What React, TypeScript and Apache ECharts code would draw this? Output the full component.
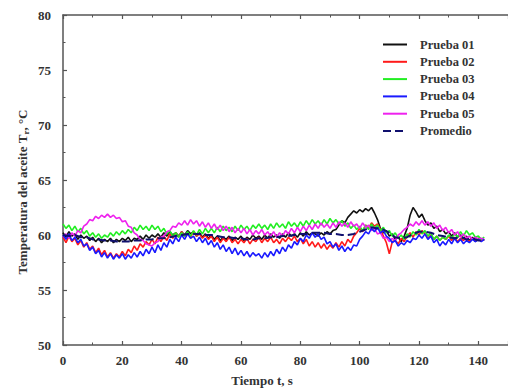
import React, { useEffect, useRef } from "react";
import * as echarts from "echarts";

const time: number[] = Array.from({ length: 143 }, (_, i) => i);
const timeAvg: number[] = Array.from({ length: 72 }, (_, i) => i * 2);

const prueba01 = [
  60.2, 59.8, 60.3, 59.9, 60.1, 59.6, 60.0, 59.7, 59.9, 59.5,
  59.8, 59.4, 59.7, 59.3, 59.6, 59.4, 59.7, 59.3, 59.6, 59.4,
  59.7, 59.5, 59.8, 59.4, 59.7, 59.6, 59.9, 59.6, 60.0, 59.7,
  60.0, 59.8, 60.1, 59.8, 60.2, 59.9, 60.3, 60.0, 60.2, 59.9,
  60.3, 60.0, 60.4, 60.1, 60.3, 59.9, 60.2, 59.8, 60.1, 59.7,
  60.0, 59.6, 59.9, 59.5, 59.8, 59.6, 59.9, 59.5, 59.8, 59.6,
  59.9, 59.5, 59.8, 59.6, 60.0, 59.7, 59.9, 59.6, 60.0, 59.7,
  60.1, 59.8, 60.0, 59.7, 60.1, 59.8, 60.2, 59.9, 60.1, 59.8,
  60.2, 59.9, 60.3, 60.0, 60.2, 60.1, 59.9, 60.2, 60.0, 60.3,
  60.1, 60.4, 60.5, 60.9, 61.3, 61.1, 61.6, 61.9, 62.2, 62.0,
  62.3, 62.1, 62.4, 62.2, 62.5, 62.0, 61.4, 60.6, 60.2, 60.4,
  59.9, 60.1, 59.6, 59.8, 59.4, 59.9, 60.6, 61.8, 62.5, 62.1,
  61.6, 61.9, 61.3, 60.9, 61.1, 60.6, 60.8, 60.3, 60.5, 60.1,
  60.3, 59.9, 60.2, 59.8, 60.0, 59.7, 59.9, 59.5, 59.8, 59.4,
  59.7, 59.5, 59.6,
];
const prueba02 = [
  59.8, 59.3, 59.9, 59.4, 59.7, 59.1, 59.5, 58.9, 59.3, 58.7,
  59.0, 58.4, 58.8, 58.2, 58.6, 58.0, 58.4, 57.9, 58.3, 58.0,
  58.5, 58.1, 58.7, 58.4, 59.0, 58.6, 59.2, 58.9, 59.4, 59.1,
  59.6, 59.2, 59.8, 59.4, 59.9, 59.5, 60.1, 59.7, 60.2, 59.8,
  60.3, 59.9, 60.2, 59.8, 60.3, 59.9, 60.1, 59.7, 60.0, 59.6,
  59.9, 59.4, 59.8, 59.3, 59.7, 59.4, 59.8, 59.3, 59.6, 59.2,
  59.6, 59.3, 59.7, 59.2, 59.6, 59.4, 59.8, 59.3, 59.7, 59.4,
  59.8, 59.3, 59.6, 59.2, 59.7, 59.4, 59.8, 59.5, 59.9, 59.4,
  59.7, 59.2, 59.6, 59.0, 59.4, 58.9, 59.3, 58.8, 59.2, 58.7,
  59.1, 58.8, 59.3, 58.9, 59.4, 59.0, 59.6, 59.3, 59.9, 60.2,
  60.6, 60.3, 60.9, 60.6, 61.1, 60.8, 61.0, 60.5, 59.9, 59.3,
  58.3, 59.4, 59.5, 59.2, 59.7, 59.4, 59.9, 60.2, 59.8, 60.3,
  60.0, 60.4, 60.1, 59.7, 60.0, 59.6, 59.9, 59.5, 59.8, 59.6,
  59.9, 59.5, 59.8, 59.4, 59.7, 59.5, 59.8, 59.4, 59.7, 59.5,
  59.7, 59.5, 59.6,
];
const prueba03 = [
  61.0, 60.6, 60.9, 60.4, 60.8, 60.3, 60.6, 60.1, 60.4, 59.9,
  60.2, 59.8, 60.1, 59.7, 60.0, 59.8, 60.2, 59.9, 60.3, 60.0,
  60.4, 60.1, 60.5, 60.2, 60.7, 60.4, 60.9, 60.5, 60.8, 60.4,
  60.9, 60.5, 60.8, 60.3, 60.6, 60.1, 60.4, 59.9, 60.2, 59.8,
  60.2, 59.9, 60.3, 59.9, 60.4, 60.0, 60.5, 60.1, 60.6, 60.2,
  60.6, 60.2, 60.7, 60.3, 60.8, 60.4, 60.7, 60.3, 60.8, 60.4,
  60.9, 60.5, 60.8, 60.4, 60.9, 60.6, 61.0, 60.6, 60.9, 60.5,
  61.0, 60.6, 61.1, 60.7, 61.0, 60.6, 61.2, 60.8, 61.1, 60.7,
  61.2, 60.8, 61.3, 60.9, 61.4, 61.0, 61.3, 60.9, 61.4, 61.0,
  61.5, 61.1, 61.4, 61.0, 61.3, 60.8, 61.1, 60.6, 60.9, 60.5,
  60.8, 60.4, 60.9, 60.5, 61.0, 60.6, 60.9, 60.4, 60.7, 60.2,
  60.4, 59.9, 60.2, 59.7, 60.0, 59.6, 60.1, 59.8, 60.3, 60.0,
  60.5, 60.1, 60.4, 59.9, 60.2, 59.6, 59.9, 59.5, 59.8, 59.6,
  60.0, 59.7, 60.1, 59.8, 60.3, 59.9, 60.4, 60.0, 60.2, 59.8,
  59.9, 59.6, 59.8,
];
const prueba04 = [
  60.0, 59.6, 60.1, 59.5, 59.8, 59.3, 59.6, 59.0, 59.2, 58.6,
  58.9, 58.3, 58.6, 58.0, 58.4, 57.9, 58.3, 57.8, 58.2, 57.9,
  58.3, 57.8, 58.2, 57.9, 58.4, 58.0, 58.5, 58.1, 58.7, 58.3,
  58.9, 58.4, 59.1, 58.6, 59.3, 58.9, 59.6, 59.2, 59.8, 59.4,
  60.0, 59.6, 60.1, 59.7, 59.9, 59.4, 59.8, 59.3, 59.7, 59.1,
  59.5, 58.9, 59.3, 58.7, 59.1, 58.5, 58.9, 58.3, 58.8, 58.2,
  58.6, 58.1, 58.5, 58.0, 58.4, 58.1, 58.3, 57.9, 58.4, 58.0,
  58.5, 58.1, 58.7, 58.3, 58.9, 58.5, 59.1, 58.8, 59.4, 59.1,
  59.7, 59.4, 60.0, 59.7, 60.2, 59.8, 60.1, 59.6, 59.8, 59.2,
  59.4, 58.9, 59.2, 58.6, 59.0, 58.5, 58.9, 58.6, 59.1, 59.0,
  59.6, 59.9, 60.3, 60.1, 60.6, 60.3, 60.7, 60.2, 60.4, 59.9,
  59.7, 59.3, 59.5, 59.0, 59.3, 59.1, 59.5, 59.3, 59.7, 59.6,
  60.0, 59.7, 60.1, 59.6, 59.9, 59.3, 59.6, 59.0, 59.4, 59.1,
  59.6, 59.2, 59.7, 59.3, 59.6, 59.2, 59.5, 59.3, 59.6, 59.4,
  59.6, 59.4, 59.6,
];
const prueba05 = [
  59.8, 60.1, 59.7, 60.2, 59.9, 60.4, 60.2, 60.8, 61.0, 61.4,
  61.3, 61.7, 61.5, 61.8, 61.6, 61.9, 61.6, 61.8, 61.5, 61.6,
  61.2, 61.3, 60.8, 60.7, 60.2, 60.0, 59.6, 59.5, 59.2, 59.1,
  59.0, 59.3, 59.4, 59.8, 59.9, 60.3, 60.4, 60.8, 60.7, 61.1,
  60.9, 61.3, 60.9, 61.4, 61.0, 61.3, 60.8, 61.2, 60.7, 61.1,
  60.6, 61.0, 60.5, 60.9, 60.4, 60.8, 60.3, 60.7, 60.2, 60.6,
  60.2, 60.6, 60.1, 60.5, 60.0, 60.4, 60.1, 60.5, 60.0, 60.3,
  59.9, 60.3, 59.8, 60.2, 59.9, 60.4, 60.1, 60.6, 60.2, 60.7,
  60.3, 60.8, 60.4, 60.9, 60.5, 61.0, 60.6, 61.1, 60.7, 61.0,
  60.6, 61.1, 60.7, 61.2, 60.8, 61.1, 60.7, 61.2, 60.8, 61.0,
  60.6, 61.1, 60.7, 60.9, 60.4, 60.6, 60.1, 60.2, 59.7, 59.8,
  59.4, 59.7, 59.5, 60.0, 60.2, 60.5, 60.7, 61.0, 60.8, 61.2,
  60.9, 61.3, 60.9, 61.2, 60.8, 61.1, 60.6, 60.9, 60.4, 60.7,
  60.2, 60.5, 60.0, 60.3, 59.8, 60.1, 59.7, 59.9, 59.6, 59.8,
  59.6, 59.7, 59.6,
];
const promedio = [
  60.0, 59.9, 60.0, 59.8, 59.8, 59.6, 59.6, 59.5, 59.5, 59.4, 59.4,
  59.4, 59.5, 59.5, 59.6, 59.6, 59.7, 59.7, 59.8, 59.9, 60.0,
  60.1, 60.1, 60.1, 60.0, 60.0, 59.9, 59.8, 59.8, 59.7, 59.7,
  59.6, 59.6, 59.7, 59.7, 59.8, 59.8, 59.9, 59.9, 60.0, 60.1,
  60.1, 60.2, 60.2, 60.2, 60.1, 60.1, 60.0, 60.0, 60.1, 60.3,
  60.5, 60.7, 60.6, 60.5, 60.2, 59.8, 59.7, 59.8, 60.1, 60.3,
  60.3, 60.2, 60.0, 59.9, 59.8, 59.7, 59.8, 59.6, 59.7, 59.5, 59.5,
];

const seriesNames = ["Prueba 01", "Prueba 02", "Prueba 03", "Prueba 04", "Prueba 05", "Promedio"];
const seriesColors = ["#111111", "#ff1a1a", "#22ee22", "#1a1aff", "#ee22ee", "#10106e"];
const seriesData = [prueba01, prueba02, prueba03, prueba04, prueba05, promedio];
const seriesTime = [time, time, time, time, time, timeAvg];

const xTicks = { min: 0, max: 150, interval: 20 };
const yTicks = { min: 50, max: 80, interval: 5 };

const FONT = "Liberation Serif";

export default function App() {
  const ref = useRef<HTMLDivElement>(null);
  useEffect(() => {
    if (!ref.current) return;
    const chart = echarts.init(ref.current, undefined, { renderer: "svg" });
    const axisLine = { show: true, lineStyle: { color: "#555", width: 1.5 } };
    const labelStyle = { fontFamily: FONT, fontWeight: "bold" as const, fontSize: 13, color: "#333" };
    const tick = { inside: true, length: 4, lineStyle: { color: "#555", width: 1.2 } };
    const minor = { show: true, splitNumber: 2, length: 2.5, lineStyle: { color: "#555" } };
    const lineOrder = [0, 1, 2, 4, 3, 5];
    chart.setOption({
      animation: false,
      backgroundColor: "#fff",
      grid: { left: 63, top: 15, right: -8, bottom: 45, containLabel: false },
      legend: {
        orient: "vertical",
        left: 382,
        top: 38,
        padding: 0,
        itemWidth: 24,
        itemHeight: 12,
        itemGap: 4.3,
        data: seriesNames,
        itemStyle: { opacity: 0 },
        textStyle: { fontFamily: FONT, fontWeight: "bold", fontSize: 12.5, color: "#333", padding: [0, 0, 0, 8] },
      },
      xAxis: [
        {
          type: "value",
          min: xTicks.min,
          max: xTicks.max,
          interval: xTicks.interval,
          position: "bottom",
          axisLine,
          axisTick: tick,
          minorTick: minor,
          splitLine: { show: false },
          axisLabel: { ...labelStyle, margin: 9, showMaxLabel: false },
        },
        {
          type: "value",
          min: xTicks.min,
          max: xTicks.max,
          interval: xTicks.interval,
          position: "top",
          axisLine,
          axisTick: tick,
          minorTick: minor,
          splitLine: { show: false },
          axisLabel: { show: false },
        },
      ],
      yAxis: {
        type: "value",
        min: yTicks.min,
        max: yTicks.max,
        interval: yTicks.interval,
        axisLine,
        axisTick: tick,
        minorTick: minor,
        splitLine: { show: false },
        axisLabel: { ...labelStyle, margin: 12 },
      },
      graphic: [
        {
          type: "text",
          x: 262,
          y: 380,
          style: {
            text: "Tiempo t, s",
            fontFamily: FONT,
            fontWeight: "bold",
            fontSize: 13,
            fill: "#333",
            align: "center",
            verticalAlign: "middle",
          },
        },
        {
          type: "text",
          x: 22,
          y: 192,
          rotation: Math.PI / 2,
          style: {
            text: "{a|Temperatura del aceite T}{s|r}{a|, °C}",
            align: "center",
            verticalAlign: "middle",
            rich: {
              a: { fontFamily: FONT, fontWeight: "bold", fontSize: 13, fill: "#333" },
              s: { fontFamily: FONT, fontWeight: "bold", fontSize: 9, fill: "#333", padding: [8, 0, 0, 0] },
            },
          },
        },
      ],
      series: lineOrder.map((i) => ({
        name: seriesNames[i],
        type: "line",
        xAxisIndex: 0,
        data: seriesTime[i].map((t, k) => [t, seriesData[i][k]]),
        showSymbol: false,
        symbol: "none",
        color: seriesColors[i],
        lineStyle: {
          color: seriesColors[i],
          width: i === 5 ? 2 : 1.6,
          type: i === 5 ? "dashed" : "solid",
        },
        z: i === 5 ? 5 : 2,
      })),
    });
    return () => chart.dispose();
  }, []);
  return <div ref={ref} style={{ position: "absolute", left: 0, top: 0, width: 508, height: 390 }} />;
}
